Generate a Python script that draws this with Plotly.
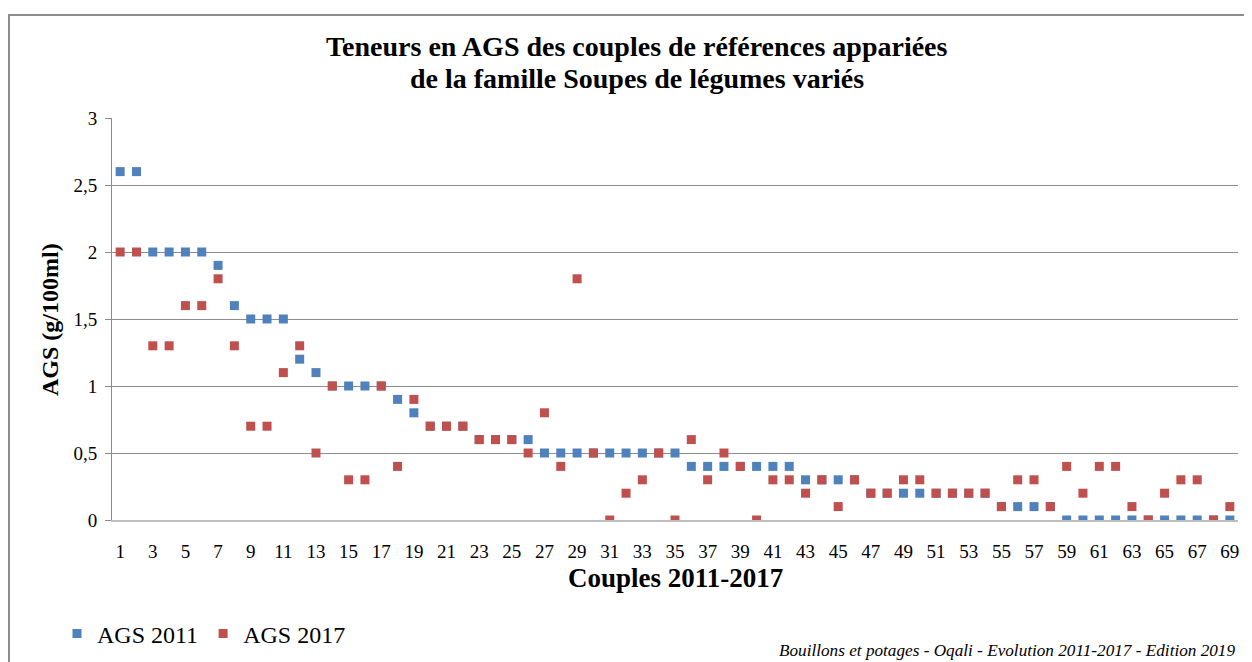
import plotly.graph_objects as go

couples = list(range(1, 70))

ags_2011 = [2.6, 2.6, 2.0, 2.0, 2.0, 2.0, 1.9, 1.6, 1.5, 1.5,
            1.5, 1.2, 1.1, 1.0, 1.0, 1.0, 1.0, 0.9, 0.8, 0.7,
            0.7, 0.7, 0.6, 0.6, 0.6, 0.6, 0.5, 0.5, 0.5, 0.5,
            0.5, 0.5, 0.5, 0.5, 0.5, 0.4, 0.4, 0.4, 0.4, 0.4,
            0.4, 0.4, 0.3, 0.3, 0.3, 0.3, 0.2, 0.2, 0.2, 0.2,
            0.2, 0.2, 0.2, 0.2, 0.1, 0.1, 0.1, 0.1, 0.0, 0.0,
            0.0, 0.0, 0.0, 0.0, 0.0, 0.0, 0.0, 0.0, 0.0]

ags_2017 = [2.0, 2.0, 1.3, 1.3, 1.6, 1.6, 1.8, 1.3, 0.7, 0.7,
            1.1, 1.3, 0.5, 1.0, 0.3, 0.3, 1.0, 0.4, 0.9, 0.7,
            0.7, 0.7, 0.6, 0.6, 0.6, 0.5, 0.8, 0.4, 1.8, 0.5,
            0.0, 0.2, 0.3, 0.5, 0.0, 0.6, 0.3, 0.5, 0.4, 0.0,
            0.3, 0.3, 0.2, 0.3, 0.1, 0.3, 0.2, 0.2, 0.3, 0.3,
            0.2, 0.2, 0.2, 0.2, 0.1, 0.3, 0.3, 0.1, 0.4, 0.2,
            0.4, 0.4, 0.1, 0.0, 0.2, 0.3, 0.3, 0.0, 0.1]

x_ticks = list(range(1, 70, 2))
y_ticks = [0, 0.5, 1, 1.5, 2, 2.5, 3]
y_tick_labels = ["0", "0,5", "1", "1,5", "2", "2,5", "3"]

FONT = "Liberation Serif"
W, H = 1236, 654


def px(xr):
    return (xr - 112) / 1126


def py(yr):
    return (520 - yr) / 402


fig = go.Figure()
fig.add_trace(go.Scatter(
    x=couples, y=ags_2011, mode="markers", name="AGS 2011",
    marker=dict(symbol="square", size=9, color="#4F81BD",
                line=dict(width=0))))
fig.add_trace(go.Scatter(
    x=couples, y=ags_2017, mode="markers", name="AGS 2017",
    marker=dict(symbol="square", size=9, color="#C0504D",
                line=dict(width=0))))

fig.update_layout(
    width=W, height=H,
    margin=dict(l=104, r=6, t=110, b=H - 512, autoexpand=False),
    paper_bgcolor="white", plot_bgcolor="white",
    font=dict(family=FONT, color="#000000"),
    xaxis=dict(
        range=[0.5, 69.5], tickmode="array", tickvals=x_ticks,
        ticktext=[str(v) for v in x_ticks],
        showgrid=False, zeroline=False,
        showline=True, linecolor="#BFBFBF", linewidth=2,
        ticks="", ticklabelstandoff=13,
        tickfont=dict(family=FONT, size=19, color="#000000")),
    yaxis=dict(
        range=[0, 3], tickmode="array", tickvals=y_ticks,
        ticktext=y_tick_labels,
        showgrid=True, gridcolor="#8C8C8C", gridwidth=1,
        zeroline=False,
        showline=True, linecolor="#8C8C8C", linewidth=1,
        ticks="outside", ticklen=6, tickcolor="#8C8C8C",
        ticklabelstandoff=4,
        tickfont=dict(family=FONT, size=19, color="#000000")),
    legend=dict(
        orientation="h", xref="container", yref="container",
        x=(57 - 8) / W, xanchor="left",
        y=(H - (634 - 8)) / H, yanchor="middle",
        font=dict(family=FONT, size=24, color="#000000"),
        itemwidth=30, bgcolor="rgba(0,0,0,0)"),
    showlegend=True,
)

fig.add_shape(type="rect", xref="paper", yref="paper",
              x0=px(9), x1=px(1270),
              y0=py(690), y1=py(15),
              line=dict(color="#8C8C8C", width=2), layer="below")

fig.add_annotation(
    text="<b>Teneurs en AGS des couples de références appariées</b>",
    xref="paper", yref="paper", x=px(637), y=py(47),
    xanchor="center", yanchor="middle", showarrow=False,
    font=dict(family=FONT, size=28, color="#000000"))
fig.add_annotation(
    text="<b>de la famille Soupes de légumes variés</b>",
    xref="paper", yref="paper", x=px(637), y=py(78),
    xanchor="center", yanchor="middle", showarrow=False,
    font=dict(family=FONT, size=28, color="#000000"))

fig.add_annotation(
    text="<b>Couples 2011-2017</b>",
    xref="paper", yref="paper", x=px(675), y=py(578),
    xanchor="center", yanchor="middle", showarrow=False,
    font=dict(family=FONT, size=27, color="#000000"))
fig.add_annotation(
    text="<b>AGS (g/100ml)</b>", textangle=-90,
    xref="paper", yref="paper", x=px(50), y=py(320),
    xanchor="center", yanchor="middle", showarrow=False,
    font=dict(family=FONT, size=24, color="#000000"))

fig.add_annotation(
    text="<i>Bouillons et potages - Oqali - Evolution 2011-2017 - Edition 2019</i>",
    xref="paper", yref="paper", x=px(1237), y=py(650),
    xanchor="right", yanchor="middle", showarrow=False,
    font=dict(family=FONT, size=17.2, color="#000000"))

fig.write_html("out.html")
